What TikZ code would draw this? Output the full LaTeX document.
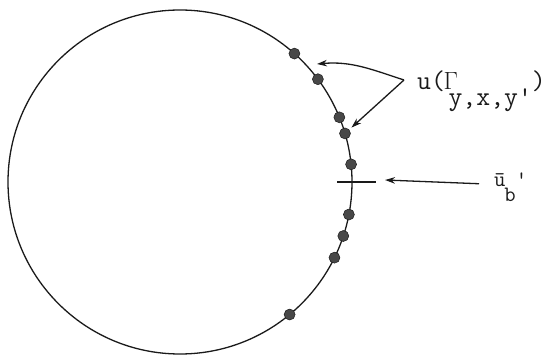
\documentclass[tikz,border=0pt]{standalone}
\usepackage{fontspec}
\usetikzlibrary{arrows.meta}
\definecolor{scanink}{HTML}{1A1A1A}

\begin{document}
\begin{tikzpicture}[x=1pt, y=1pt, font=\ttfamily\fontsize{22}{26}\selectfont, text=scanink,
    rim/.style={draw=scanink, line width=1.3pt},
    bead/.style={circle, fill=scanink!80, draw=scanink, line width=0.5pt, inner sep=0pt, minimum size=11pt},
    pointer/.style={draw=scanink, line width=1.3pt, -{Stealth[length=10pt, width=6.5pt]}},
    tick/.style={draw=scanink, line width=1.3pt},
    tag/.style={anchor=base west, inner sep=0pt},
  ]
  \useasboundingbox (0,0) rectangle (559,356);

  % boundary circle
  \coordinate (ctr) at (180,174);
  \pgfmathsetmacro{\rad}{172}
  \draw[rim] (ctr) circle[radius=\rad];

  % beads on the right-hand arc
  \foreach \ang [count=\i] in {48.3, 36.7, 22.1, 16.4, 5.9, -10.9, -18.3, -26.1, -50.4} {
    \node[bead] (b\i) at ([shift={(\ang:\rad)}]ctr) {};
  }

  % cross mark where the boundary value sits
  \coordinate (mark) at ([shift={(0:\rad)}]ctr);
  \draw[tick] ([xshift=-15pt]mark) -- ([xshift=24pt]mark);

  % labels
  \node[tag, font=\ttfamily\fontsize{27}{31}\selectfont] (ulab) at (417,266)
    {u(\kern-0.05em$\Gamma$\kern-0.35em\raisebox{-16pt}{y,x,y\char"27})};
  \node[tag] (ublab) at (494,169) {ū\kern-0.05em\raisebox{-15pt}{b}\char"27};

  % pointers
  \coordinate (fork) at (404,276);
  \coordinate (aimA) at (317,292);
  \coordinate (aimC) at (385,176);
  \draw[pointer] (fork) to[out=162, in=5] (aimA);
  \draw[pointer, shorten >=3pt] (fork) -- (b4);
  \draw[pointer] ([shift={(-15pt,4pt)}]ublab.west) -- (aimC);
\end{tikzpicture}
\end{document}
